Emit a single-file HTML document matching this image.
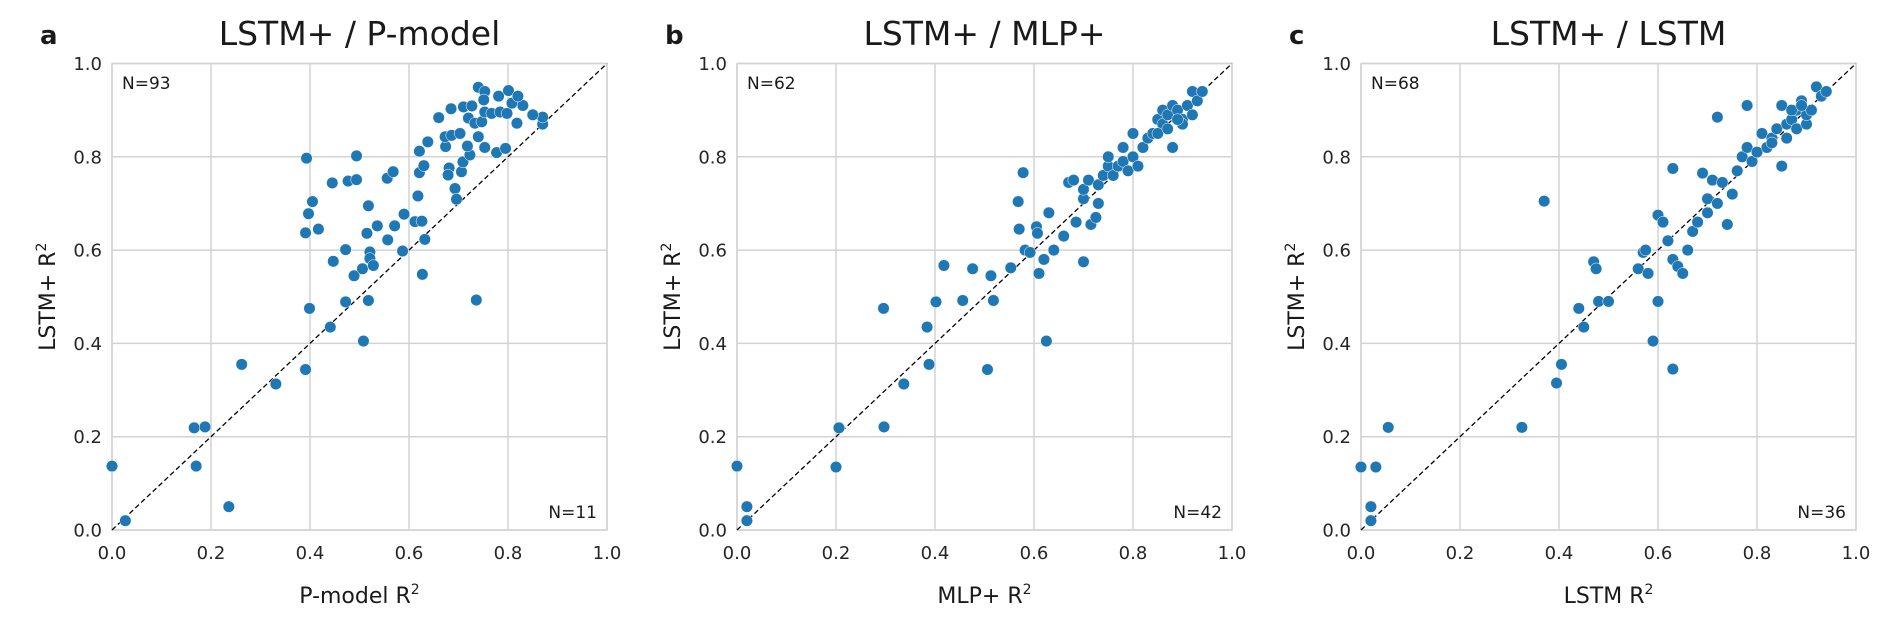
<!DOCTYPE html>
<html><head><meta charset="utf-8"><style>
html,body{margin:0;padding:0;background:#fff}
svg{display:block;font-family:"DejaVu Sans","Liberation Sans",sans-serif}
</style></head><body>
<svg id="fig" width="1892" height="619" viewBox="0 0 1892 619" xmlns="http://www.w3.org/2000/svg"></svg>
<script>
const tickValues=[0,0.2,0.4,0.6,0.8,1.0];
const tickLabels=["0.0","0.2","0.4","0.6","0.8","1.0"];
const panelLetters=["a","b","c"];
const panelTitles=["LSTM+ / P-model","LSTM+ / MLP+","LSTM+ / LSTM"];
const xLabels=["P-model R","MLP+ R","LSTM R"];
const countsAbove=["N=93","N=62","N=68"];
const countsBelow=["N=11","N=42","N=36"];
const aX=[0.393,0.494,0.445,0.477,0.494,0.405,0.397,0.391,0.417,0.447,0.472,0.489,0.506,0.515,0.518,0.536,0.557,0.571,0.590,0.521,0.521,0.528,0.587,0.612,0.626,0.632,0.627,0.618,0.621,0.630,0.556,0.568,0.621,0.638,0.660,0.674,0.673,0.686,0.703,0.681,0.679,0.693,0.696,0.706,0.709,0.723,0.718,0.740,0.753,0.777,0.795,0.736,0.685,0.710,0.727,0.72,0.733,0.747,0.753,0.767,0.784,0.798,0.740,0.753,0.751,0.781,0.801,0.808,0.818,0.87,0.87,0.83,0.85,0.82,0.441,0.399,0.472,0.518,0.508,0.262,0.391,0.331,0.166,0.188,0.0,0.17,0.027,0.236];
const aY=[0.797,0.802,0.744,0.748,0.751,0.704,0.678,0.637,0.645,0.576,0.601,0.545,0.560,0.636,0.695,0.652,0.622,0.652,0.677,0.596,0.582,0.567,0.598,0.661,0.662,0.623,0.548,0.716,0.766,0.781,0.754,0.768,0.812,0.832,0.884,0.822,0.843,0.846,0.850,0.776,0.761,0.732,0.709,0.768,0.789,0.804,0.823,0.843,0.820,0.809,0.818,0.493,0.903,0.907,0.909,0.883,0.872,0.875,0.896,0.893,0.896,0.893,0.949,0.940,0.922,0.930,0.942,0.915,0.872,0.87,0.885,0.91,0.89,0.93,0.435,0.475,0.489,0.492,0.405,0.355,0.344,0.313,0.219,0.221,0.137,0.137,0.02,0.05];
const bX=[0.578,0.568,0.570,0.582,0.592,0.605,0.607,0.553,0.513,0.476,0.418,0.402,0.456,0.518,0.384,0.388,0.506,0.337,0.296,0.297,0.206,0.61,0.62,0.63,0.625,0.64,0.66,0.67,0.68,0.685,0.70,0.70,0.70,0.71,0.715,0.725,0.73,0.73,0.74,0.75,0.75,0.76,0.77,0.78,0.78,0.79,0.80,0.80,0.81,0.82,0.83,0.84,0.85,0.86,0.86,0.87,0.88,0.88,0.89,0.90,0.90,0.91,0.92,0.93,0.94,0.92,0.85,0.87,0.89,0.0,0.02,0.02,0.20];
const bY=[0.766,0.704,0.645,0.600,0.595,0.650,0.636,0.562,0.545,0.560,0.567,0.489,0.492,0.492,0.435,0.355,0.344,0.313,0.475,0.221,0.219,0.55,0.58,0.68,0.405,0.60,0.63,0.745,0.75,0.66,0.71,0.575,0.73,0.75,0.655,0.67,0.70,0.74,0.76,0.78,0.80,0.76,0.78,0.79,0.82,0.77,0.80,0.85,0.78,0.82,0.84,0.85,0.88,0.87,0.90,0.89,0.91,0.82,0.90,0.88,0.87,0.91,0.94,0.92,0.94,0.89,0.85,0.86,0.88,0.137,0.05,0.02,0.135];
const cX=[0.0,0.03,0.055,0.02,0.02,0.325,0.37,0.395,0.405,0.44,0.45,0.47,0.475,0.48,0.50,0.56,0.57,0.575,0.58,0.59,0.60,0.60,0.61,0.62,0.63,0.63,0.63,0.64,0.65,0.66,0.67,0.68,0.69,0.70,0.70,0.71,0.72,0.72,0.73,0.74,0.75,0.76,0.77,0.78,0.78,0.79,0.80,0.81,0.82,0.83,0.84,0.85,0.85,0.86,0.87,0.88,0.88,0.89,0.90,0.90,0.91,0.92,0.93,0.94,0.83,0.86,0.87,0.89];
const cY=[0.135,0.135,0.22,0.05,0.02,0.22,0.705,0.315,0.355,0.475,0.435,0.575,0.56,0.49,0.49,0.56,0.595,0.60,0.55,0.405,0.49,0.675,0.66,0.62,0.58,0.345,0.775,0.565,0.55,0.60,0.64,0.66,0.765,0.71,0.68,0.75,0.885,0.70,0.745,0.655,0.72,0.77,0.80,0.91,0.82,0.79,0.81,0.85,0.82,0.84,0.86,0.78,0.91,0.87,0.88,0.90,0.86,0.92,0.87,0.89,0.90,0.95,0.93,0.94,0.83,0.84,0.90,0.91];
const seriesX=[aX,bX,cX], seriesY=[aY,bY,cY];

const NS="http://www.w3.org/2000/svg";
const svg=document.getElementById('fig');
const lefts=[112,737,1361], W=495, TOP=63.5, H=466.5;
function mk(tag,attrs,parent,text){const e=document.createElementNS(NS,tag);for(const k in attrs)e.setAttribute(k,attrs[k]);if(text!==undefined)e.textContent=text;(parent||svg).appendChild(e);return e;}
for(let p=0;p<3;p++){
  const L=lefts[p];
  const sx=v=>L+v*W, sy=v=>TOP+H-v*H;
  const g=mk('g',{});
  
  
  tickValues.forEach((t,i)=>{
    const gx=mk('line',{x1:sx(t),x2:sx(t),y1:TOP,y2:TOP+H,stroke:'#d3d3d3','stroke-width':1.5},g);
    
    const gy=mk('line',{x1:L,x2:L+W,y1:sy(t),y2:sy(t),stroke:'#d3d3d3','stroke-width':1.5},g);
    
    const xt=mk('text',{x:sx(t),y:559,'font-size':18,'text-anchor':'middle',fill:'#262626'},g,tickLabels[i]);
    
    const yt=mk('text',{x:L-10,y:sy(t)+6.5,'font-size':18,'text-anchor':'end',fill:'#262626'},g,tickLabels[i]);
    
  });
  const fr=mk('rect',{x:L,y:TOP,width:W,height:H,fill:'none',stroke:'#d3d3d3','stroke-width':1.5},g);
  
  const dl=mk('line',{x1:sx(0),y1:sy(0),x2:sx(1),y2:sy(1),stroke:'#000','stroke-width':1.3,'stroke-dasharray':'5,3'},g);
  
  const xs=seriesX[p], ys=seriesY[p];
  for(let i=0;i<xs.length;i++){
    const c=mk('circle',{cx:sx(xs[i]),cy:sy(ys[i]),r:5.8,fill:'#1f77b4',stroke:'#fff','stroke-width':0.5},g);
    
    
  }
  const t=mk('text',{x:L+W/2,y:45,'font-size':33,'text-anchor':'middle',fill:'#1a1a1a'},g,panelTitles[p]);
  
  const lt=mk('text',{x:L-72,y:44,'font-size':26,'font-weight':'bold',fill:'#1a1a1a'},g,panelLetters[p]);
  
  const n1=mk('text',{x:L+10,y:89,'font-size':17,fill:'#1a1a1a'},g,countsAbove[p]);
  
  const n2=mk('text',{x:L+W-10,y:518,'font-size':17,'text-anchor':'end',fill:'#1a1a1a'},g,countsBelow[p]);
  
  const xl=mk('text',{x:L+W/2,y:603,'font-size':22,'text-anchor':'middle',fill:'#1a1a1a'},g);
  
  xl.appendChild(document.createTextNode(xLabels[p]));
  mk('tspan',{'font-size':14,dy:-9},xl,'2');
  const yl=mk('text',{x:0,y:0,'font-size':22,'text-anchor':'middle',fill:'#1a1a1a',transform:`translate(${L-57},${TOP+H/2}) rotate(-90)`},g);
  
  yl.appendChild(document.createTextNode('LSTM+ R'));
  mk('tspan',{'font-size':14,dy:-9},yl,'2');
}
</script>
</body></html>
